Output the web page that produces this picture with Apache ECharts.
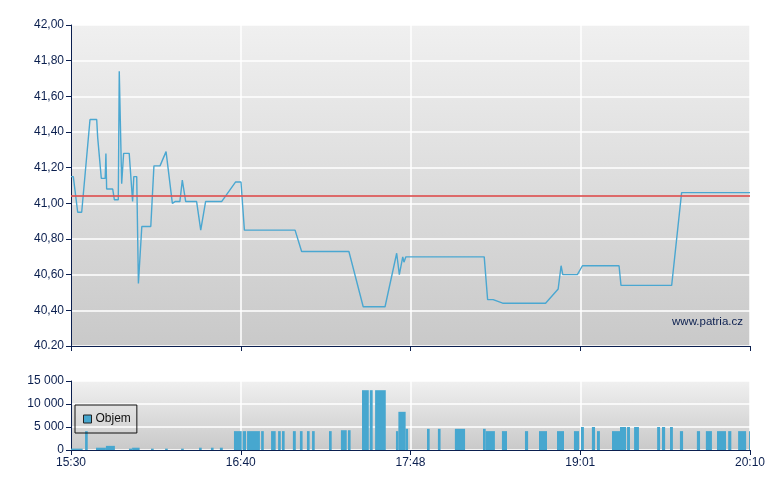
<!DOCTYPE html>
<html>
<head>
<meta charset="utf-8">
<script src="https://cdn.jsdelivr.net/npm/echarts@6/dist/echarts.min.js"></script>
<style>html,body{margin:0;padding:0;background:#fff}#c{width:780px;height:490px}</style>
</head>
<body>
<div id="c"></div>
<script>
// x positions are minutes-like units on a 0..280 scale (tick every 70)
var xTickLabels = ['15:30', '16:40', '17:48', '19:01', '20:10'];
var priceTickLabels = ['40.20', '40,40', '40,60', '40,80', '41,00', '41,20', '41,40', '41,60', '41,80', '42,00'];
var volTickLabels = ['0', '5 000', '10 000', '15 000'];

var priceX = [0, 0.95, 2.76, 4.41, 7.84, 10.6, 11.0, 11.7, 12.5, 14.1, 14.4, 14.7, 17.2, 17.9, 19.5, 19.9, 20.3, 20.9, 21.7, 24.0,
  25.4, 25.9, 27.1, 27.8, 29.2, 32.9, 34.2, 36.7, 39.2, 41.8, 42.9, 44.9, 45.9, 47.3, 51.8, 53.5, 55.5, 62.1, 67.9, 70.1,
  71.5, 92.4, 95.1, 114.6, 120.5, 129.5, 134.3, 135.4, 136.1, 136.8, 137.3, 138.1, 170.4, 171.8, 174.1, 178.0, 195.7, 200.9,
  202.1, 202.8, 208.8, 210.9, 226.0, 226.8, 247.7, 251.8, 280];
var priceY = [41.15, 41.15, 40.95, 40.95, 41.47, 41.47, 41.37, 41.37, 41.14, 41.14, 41.28, 41.08, 41.08, 41.02, 41.02, 41.74, 41.74, 41.11, 41.28, 41.28,
  41.01, 41.15, 41.15, 40.55, 40.87, 40.87, 41.21, 41.21, 41.29, 41.00, 41.01, 41.01, 41.13, 41.01, 41.01, 40.85, 41.01, 41.01, 41.12, 41.12,
  40.85, 40.85, 40.73, 40.73, 40.42, 40.42, 40.72, 40.60, 40.60, 40.70, 40.67, 40.70, 40.70, 40.46, 40.46, 40.44, 40.44, 40.52,
  40.65, 40.60, 40.60, 40.65, 40.65, 40.54, 40.54, 41.06, 41.06];
var refPrice = 41.04;

var volStart = [0, 5.8, 10.3, 14.4, 23.9, 25.2, 33.0, 38.8, 45.4, 52.8, 57.7, 61.4, 67.2, 70.8, 72.6, 78.4, 82.5, 85.4, 87.0, 91.5,
  94.4, 97.3, 99.4, 106.4, 111.3, 114.2, 120.0, 123.2, 125.4, 134.0, 135.0, 138.0, 146.8, 151.3, 158.3, 169.9, 171.0, 177.7, 187.2, 193.0,
  200.4, 207.4, 210.3, 214.8, 216.9, 223.1, 226.4, 229.3, 232.2, 241.7, 243.7, 247.0, 251.1, 258.1, 261.8, 266.4, 271.0, 275.1, 279.6];
var volEnd = [4.8, 6.9, 14.4, 18.1, 25.2, 28.3, 34.1, 39.9, 46.5, 53.9, 58.8, 62.6, 70.4, 72.2, 77.9, 79.5, 84.4, 86.5, 88.1, 92.7,
  95.5, 98.4, 100.5, 107.5, 113.7, 115.3, 122.8, 124.4, 129.8, 135.0, 138.0, 139.0, 147.9, 152.4, 162.5, 171.0, 174.8, 179.8, 188.5, 196.3,
  203.3, 209.5, 211.5, 216.1, 218.1, 226.4, 228.9, 230.5, 234.2, 242.9, 245.0, 248.2, 252.4, 259.4, 264.3, 270.1, 272.3, 278.4, 280];
var volValue = [300, 4100, 500, 900, 300, 500, 300, 300, 300, 500, 500, 500, 4100, 4100, 4100, 4100, 4100, 4100, 4100, 4100,
  4100, 4100, 4100, 4100, 4300, 4300, 13000, 13000, 13000, 4100, 8300, 4600, 4600, 4600, 4600, 4600, 4100, 4100, 4100, 4100,
  4100, 4100, 5000, 5000, 4100, 4100, 5000, 5000, 5000, 5000, 5000, 5000, 4100, 4100, 4100, 4100, 4100, 4100, 4100];

var priceData = priceX.map(function (x, i) { return [x, priceY[i]]; });
var volData = volStart.map(function (s, i) { return [s, volEnd[i], volValue[i]]; });

var navy = '#0b1f4f';
var font = 'Liberation Sans, Arial, sans-serif';
function bg() {
  return new echarts.graphic.LinearGradient(0, 0, 0, 1, [{offset: 0, color: '#f0f0f0'}, {offset: 1, color: '#c9c9c9'}]);
}

var chart = echarts.init(document.getElementById('c'), null, {renderer: 'canvas'});
chart.setOption({
  backgroundColor: '#ffffff',
  animation: false,
  textStyle: {fontFamily: font},
  grid: [
    {left: 71, top: 25, width: 679, height: 321, show: true, backgroundColor: bg(), borderWidth: 0},
    {left: 71, top: 381, width: 679, height: 69, show: true, backgroundColor: bg(), borderWidth: 0}
  ],
  xAxis: [
    {type: 'value', gridIndex: 0, min: 0, max: 280, interval: 70,
      axisLine: {show: true, lineStyle: {color: navy, width: 1}},
      axisTick: {show: true, length: 5, lineStyle: {color: navy}},
      axisLabel: {show: false},
      splitLine: {show: true, lineStyle: {color: '#ffffff', width: 1.5}}},
    {type: 'value', gridIndex: 1, min: 0, max: 280, interval: 70,
      axisLine: {show: true, lineStyle: {color: navy, width: 1}},
      axisTick: {show: true, length: 5, lineStyle: {color: navy}},
      axisLabel: {show: true, color: navy, fontSize: 12, fontFamily: font, margin: 7,
        formatter: function (v) { return xTickLabels[Math.round(v / 70)]; }},
      splitLine: {show: true, lineStyle: {color: '#ffffff', width: 1.5}}}
  ],
  yAxis: [
    {type: 'value', gridIndex: 0, min: 40.2, max: 42.0, interval: 0.2,
      axisLine: {show: true, lineStyle: {color: navy, width: 1}},
      axisTick: {show: true, length: 5, lineStyle: {color: navy}},
      axisLabel: {color: navy, fontSize: 12, fontFamily: font, margin: 7,
        formatter: function (v) { return priceTickLabels[Math.round((v - 40.2) / 0.2)]; }},
      splitLine: {show: true, lineStyle: {color: '#ffffff', width: 1.5}}},
    {type: 'value', gridIndex: 1, min: 0, max: 15000, interval: 5000,
      axisLine: {show: true, lineStyle: {color: navy, width: 1}},
      axisTick: {show: true, length: 5, lineStyle: {color: navy}},
      axisLabel: {color: navy, fontSize: 12, fontFamily: font, margin: 7,
        formatter: function (v) { return volTickLabels[Math.round(v / 5000)]; }},
      splitLine: {show: true, lineStyle: {color: '#ffffff', width: 1.5}}}
  ],
  legend: {
    data: [{name: 'Objem', icon: 'rect'}],
    left: 75, top: 405, orient: 'horizontal',
    padding: [8, 6, 8, 8],
    borderColor: '#111111', borderWidth: 1,
    itemWidth: 8, itemHeight: 8, itemGap: 5,
    itemStyle: {color: '#47a7cf', borderColor: '#222222', borderWidth: 1},
    textStyle: {color: '#111111', fontSize: 12, fontFamily: font, padding: [0, 0, 0, -1]},
    selectedMode: false
  },
  graphic: [
    {type: 'text', right: 37, top: 316, silent: true,
      style: {text: 'www.patria.cz', fill: navy, font: '11.5px Liberation Sans, Arial, sans-serif'}}
  ],
  series: [
    {type: 'line', name: 'Cena', xAxisIndex: 0, yAxisIndex: 0, data: priceData,
      showSymbol: false, symbol: 'none', smooth: false,
      lineStyle: {color: '#4aa7d1', width: 1.4},
      markLine: {silent: true, symbol: 'none', label: {show: false},
        lineStyle: {color: '#dd5555', width: 2, type: 'solid', opacity: 0.85},
        data: [{yAxis: refPrice}]},
      z: 3},
    {type: 'custom', name: 'Objem', xAxisIndex: 1, yAxisIndex: 1, data: volData,
      encode: {x: [0, 1], y: 2},
      itemStyle: {color: '#47a7cf'},
      renderItem: function (params, api) {
        var p0 = api.coord([api.value(0), api.value(2)]);
        var p1 = api.coord([api.value(1), 0]);
        return {type: 'rect',
          shape: {x: p0[0], y: p0[1], width: p1[0] - p0[0], height: p1[1] - p0[1]},
          style: {fill: '#47a7cf'}};
      },
      z: 3}
  ]
});
</script>
</body>
</html>
